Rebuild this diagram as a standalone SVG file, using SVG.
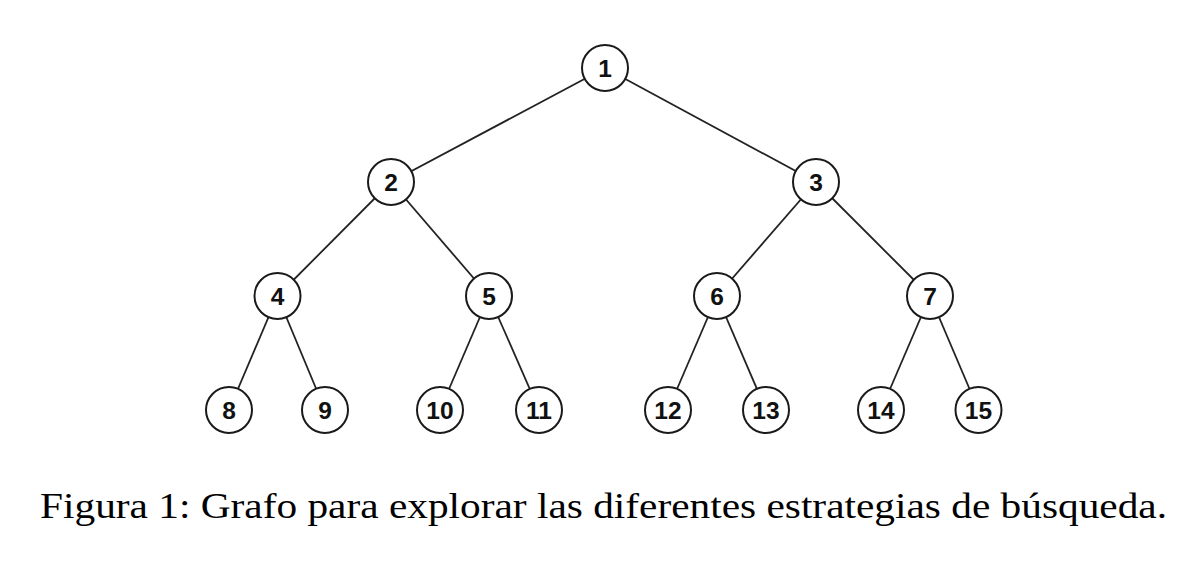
<svg xmlns="http://www.w3.org/2000/svg" width="1203" height="567" viewBox="0 0 1203 567">
<style>
.edge{stroke:#222;stroke-width:1.8;fill:none}
.node circle{fill:#fff;stroke:#1a1a1a;stroke-width:2}
.node text{font-family:"Liberation Sans",Arial,sans-serif;font-weight:bold;font-size:24.5px;fill:#111;text-anchor:middle}
.caption{font-family:"Liberation Serif","Times New Roman",serif;font-size:36px;fill:#000}
</style>
<rect width="1203" height="567" fill="#fff"/>
<g id="edges">
<line class="edge" x1="605" y1="68" x2="391" y2="182"/>
<line class="edge" x1="605" y1="68" x2="816" y2="182"/>
<line class="edge" x1="391" y1="182" x2="277.5" y2="296"/>
<line class="edge" x1="391" y1="182" x2="489" y2="296"/>
<line class="edge" x1="816" y1="182" x2="717" y2="296"/>
<line class="edge" x1="816" y1="182" x2="930" y2="296"/>
<line class="edge" x1="277.5" y1="296" x2="229" y2="410"/>
<line class="edge" x1="277.5" y1="296" x2="325" y2="410"/>
<line class="edge" x1="489" y1="296" x2="440" y2="410"/>
<line class="edge" x1="489" y1="296" x2="539" y2="410"/>
<line class="edge" x1="717" y1="296" x2="668" y2="410"/>
<line class="edge" x1="717" y1="296" x2="766" y2="410"/>
<line class="edge" x1="930" y1="296" x2="881" y2="410"/>
<line class="edge" x1="930" y1="296" x2="978.5" y2="410"/>
</g>
<g id="n1" class="node"><circle cx="605" cy="68" r="23"/><text x="605" y="76.5">1</text></g>
<g id="n2" class="node"><circle cx="391" cy="182" r="23"/><text x="391" y="190.5">2</text></g>
<g id="n3" class="node"><circle cx="816" cy="182" r="23"/><text x="816" y="190.5">3</text></g>
<g id="n4" class="node"><circle cx="277.5" cy="296" r="23"/><text x="277.5" y="304.5">4</text></g>
<g id="n5" class="node"><circle cx="489" cy="296" r="23"/><text x="489" y="304.5">5</text></g>
<g id="n6" class="node"><circle cx="717" cy="296" r="23"/><text x="717" y="304.5">6</text></g>
<g id="n7" class="node"><circle cx="930" cy="296" r="23"/><text x="930" y="304.5">7</text></g>
<g id="n8" class="node"><circle cx="229" cy="410" r="23"/><text x="229" y="418.5">8</text></g>
<g id="n9" class="node"><circle cx="325" cy="410" r="23"/><text x="325" y="418.5">9</text></g>
<g id="n10" class="node"><circle cx="440" cy="410" r="23"/><text x="440" y="418.5">10</text></g>
<g id="n11" class="node"><circle cx="539" cy="410" r="23"/><text x="539" y="418.5">11</text></g>
<g id="n12" class="node"><circle cx="668" cy="410" r="23"/><text x="668" y="418.5">12</text></g>
<g id="n13" class="node"><circle cx="766" cy="410" r="23"/><text x="766" y="418.5">13</text></g>
<g id="n14" class="node"><circle cx="881" cy="410" r="23"/><text x="881" y="418.5">14</text></g>
<g id="n15" class="node"><circle cx="978.5" cy="410" r="23"/><text x="978.5" y="418.5">15</text></g>
<text class="caption" x="40" y="518" textLength="1127" lengthAdjust="spacingAndGlyphs">Figura 1: Grafo para explorar las diferentes estrategias de búsqueda.</text>
</svg>
